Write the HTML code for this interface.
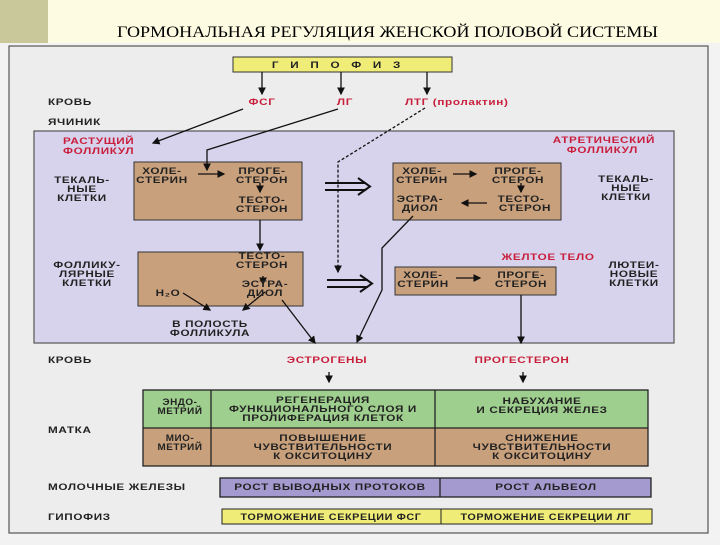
<!DOCTYPE html>
<html><head><meta charset="utf-8"><style>
body{margin:0;width:720px;height:540px;overflow:hidden;background:#f2f2f2}
svg text{font-family:"Liberation Sans",sans-serif;font-weight:bold;font-size:9px;letter-spacing:0.5px;fill:#222;transform-box:fill-box;transform-origin:center;transform:scaleX(1.3)}
svg text.l{transform-origin:left center}
svg text.e{transform-origin:right center}
.r{fill:#c81e3c}
</style></head><body>
<svg width="720" height="540" xmlns="http://www.w3.org/2000/svg">
<defs><marker id="a" markerWidth="6" markerHeight="6" refX="5" refY="3" orient="auto"><path d="M0,0L6,3L0,6z" fill="#111"/></marker></defs>
<rect x="0" y="0" width="720" height="43" fill="#fdfce2"/>
<rect x="0" y="0" width="48" height="43" fill="#c9c89a"/>
<text x="117" y="37" textLength="541" lengthAdjust="spacingAndGlyphs" style="font-family:'Liberation Serif',serif;font-weight:normal;font-size:16px;letter-spacing:0;fill:#000;transform:none">ГОРМОНАЛЬНАЯ РЕГУЛЯЦИЯ ЖЕНСКОЙ ПОЛОВОЙ СИСТЕМЫ</text>
<rect x="0" y="43" width="720" height="497" fill="#f3f3f3"/>
<rect x="9" y="46" width="699" height="487" fill="#ededed" stroke="#555" stroke-width="1.2"/>
<rect x="34" y="131" width="640" height="212" fill="#d8d3ec" stroke="#555" stroke-width="1.2"/>
<rect x="233" y="57" width="219" height="15" fill="#f0ec78" stroke="#333"/>
<text x="342" y="68" text-anchor="middle" style="letter-spacing:9px">ГИПОФИЗ</text>
<rect x="134" y="162" width="168" height="58" fill="#c9a07c" stroke="#333"/>
<rect x="138" y="252" width="165" height="54" fill="#c9a07c" stroke="#333"/>
<rect x="393" y="163" width="168" height="57" fill="#c9a07c" stroke="#333"/>
<rect x="395" y="267" width="161" height="28" fill="#c9a07c" stroke="#333"/>
<g stroke="#111" stroke-width="1.3" fill="none" marker-end="url(#a)">
<line x1="262" y1="72" x2="262" y2="94"/><line x1="341" y1="72" x2="341" y2="94"/><line x1="427" y1="72" x2="427" y2="94"/>
<line x1="243" y1="109" x2="153" y2="143"/>
<polyline points="338,109 207,150 207,170"/>
<polyline points="425,108 338,162 338,272" stroke-dasharray="3,2"/>
<line x1="260" y1="220" x2="260" y2="250"/>
<polyline points="413,216 382,248 382,290 357,342"/>
<line x1="282" y1="300" x2="315" y2="343"/>
<line x1="521" y1="295" x2="521" y2="343"/>
<line x1="329" y1="372" x2="329" y2="382"/><line x1="523" y1="372" x2="523" y2="382"/>
<line x1="198" y1="174" x2="224" y2="174"/>
<line x1="260" y1="183" x2="260" y2="192"/>
<line x1="453" y1="174" x2="476" y2="174"/>
<line x1="521" y1="183" x2="521" y2="192"/>
<line x1="487" y1="203" x2="462" y2="203"/>
<line x1="263" y1="276" x2="263" y2="284"/>
<line x1="456" y1="278" x2="480" y2="278"/>
<line x1="183" y1="293" x2="210" y2="310"/>
<line x1="265" y1="292" x2="243" y2="310"/>
</g>
<text x="48" y="105" class="l">КРОВЬ</text><text x="48" y="125" class="l">ЯЧИНИК</text>
<text x="262" y="105" text-anchor="middle" class="r">ФСГ</text>
<text x="345" y="105" text-anchor="middle" class="r">ЛГ</text>
<text x="405" y="105" class="r l">ЛТГ (пролактин)</text>
<text x="63" y="144" class="r l">РАСТУЩИЙ</text><text x="63" y="154" class="r l">ФОЛЛИКУЛ</text>
<text x="655" y="143" text-anchor="end" class="r e">АТРЕТИЧЕСКИЙ</text><text x="638" y="153" text-anchor="end" class="r e">ФОЛЛИКУЛ</text>
<g text-anchor="middle">
<text x="162" y="174">ХОЛЕ-</text><text x="162" y="183">СТЕРИН</text>
<text x="262" y="174">ПРОГЕ-</text><text x="262" y="183">СТЕРОН</text>
<text x="262" y="203">ТЕСТО-</text><text x="262" y="212">СТЕРОН</text>
<text x="262" y="259">ТЕСТО-</text><text x="262" y="268">СТЕРОН</text>
<text x="265" y="287">ЭСТРА-</text><text x="265" y="296">ДИОЛ</text>
<text x="168" y="296">H₂O</text>
<text x="422" y="174">ХОЛЕ-</text><text x="422" y="183">СТЕРИН</text>
<text x="518" y="174">ПРОГЕ-</text><text x="518" y="183">СТЕРОН</text>
<text x="521" y="202">ТЕСТО-</text><text x="525" y="211">СТЕРОН</text>
<text x="420" y="202">ЭСТРА-</text><text x="420" y="211">ДИОЛ</text>
<text x="423" y="278">ХОЛЕ-</text><text x="423" y="287">СТЕРИН</text>
<text x="521" y="278">ПРОГЕ-</text><text x="521" y="287">СТЕРОН</text>
<text x="82" y="183">ТЕКАЛЬ-</text><text x="82" y="192">НЫЕ</text><text x="82" y="201">КЛЕТКИ</text>
<text x="626" y="182">ТЕКАЛЬ-</text><text x="626" y="191">НЫЕ</text><text x="626" y="200">КЛЕТКИ</text>
<text x="87" y="268">ФОЛЛИКУ-</text><text x="87" y="277">ЛЯРНЫЕ</text><text x="87" y="286">КЛЕТКИ</text>
<text x="634" y="268">ЛЮТЕИ-</text><text x="634" y="277">НОВЫЕ</text><text x="634" y="286">КЛЕТКИ</text>
<text x="210" y="327">В  ПОЛОСТЬ</text><text x="210" y="336">ФОЛЛИКУЛА</text>
<text x="548" y="260" class="r">ЖЕЛТОЕ ТЕЛО</text>
<text x="327" y="363" class="r">ЭСТРОГЕНЫ</text>
<text x="522" y="363" class="r">ПРОГЕСТЕРОН</text>
</g>
<g fill="none" stroke="#111" stroke-width="2">
<path d="M325,183H366M325,190H366M358,178L370,186.5L358,195"/>
<path d="M327,280H368M327,287H368M360,275L372,283.5L360,292"/>
</g>
<text x="48" y="363" class="l">КРОВЬ</text>
<rect x="143" y="390" width="505" height="38" fill="#9fcf8e"/>
<rect x="143" y="428" width="505" height="38" fill="#c9a07c"/>
<g stroke="#222" stroke-width="1.3" fill="none"><rect x="143" y="390" width="505" height="76"/><line x1="143" y1="428" x2="648" y2="428"/><line x1="211" y1="390" x2="211" y2="466"/><line x1="435" y1="390" x2="435" y2="466"/></g>
<g text-anchor="middle">
<text x="180" y="405" style="transform:scaleX(1.1)">ЭНДО-</text><text x="180" y="414" style="transform:scaleX(1.1)">МЕТРИЙ</text>
<text x="180" y="441" style="transform:scaleX(1.1)">МИО-</text><text x="180" y="450" style="transform:scaleX(1.1)">МЕТРИЙ</text>
<text x="323" y="403">РЕГЕНЕРАЦИЯ</text><text x="323" y="412">ФУНКЦИОНАЛЬНОГО СЛОЯ И</text><text x="323" y="421">ПРОЛИФЕРАЦИЯ КЛЕТОК</text>
<text x="542" y="404">НАБУХАНИЕ</text><text x="542" y="413">И  СЕКРЕЦИЯ ЖЕЛЕЗ</text>
<text x="323" y="441">ПОВЫШЕНИЕ</text><text x="323" y="450">ЧУВСТВИТЕЛЬНОСТИ</text><text x="323" y="459">К  ОКСИТОЦИНУ</text>
<text x="542" y="441">СНИЖЕНИЕ</text><text x="542" y="450">ЧУВСТВИТЕЛЬНОСТИ</text><text x="542" y="459">К  ОКСИТОЦИНУ</text>
</g>
<text x="48" y="433" class="l">МАТКА</text>
<rect x="220" y="478" width="431" height="19" fill="#a49ad0" stroke="#222" stroke-width="1.3"/>
<line x1="440" y1="478" x2="440" y2="497" stroke="#222" stroke-width="1.3"/>
<text x="48" y="490" class="l">МОЛОЧНЫЕ ЖЕЛЕЗЫ</text>
<text x="330" y="490" text-anchor="middle">РОСТ ВЫВОДНЫХ ПРОТОКОВ</text>
<text x="546" y="490" text-anchor="middle">РОСТ АЛЬВЕОЛ</text>
<rect x="222" y="509" width="430" height="15" fill="#f0ec78" stroke="#222"/>
<line x1="441" y1="509" x2="441" y2="524" stroke="#222"/>
<text x="48" y="520" class="l">ГИПОФИЗ</text>
<text x="331" y="520" text-anchor="middle" style="transform:scaleX(1.2)">ТОРМОЖЕНИЕ СЕКРЕЦИИ  ФСГ</text>
<text x="546" y="520" text-anchor="middle" style="transform:scaleX(1.2)">ТОРМОЖЕНИЕ СЕКРЕЦИИ ЛГ</text>
</svg>
</body></html>
